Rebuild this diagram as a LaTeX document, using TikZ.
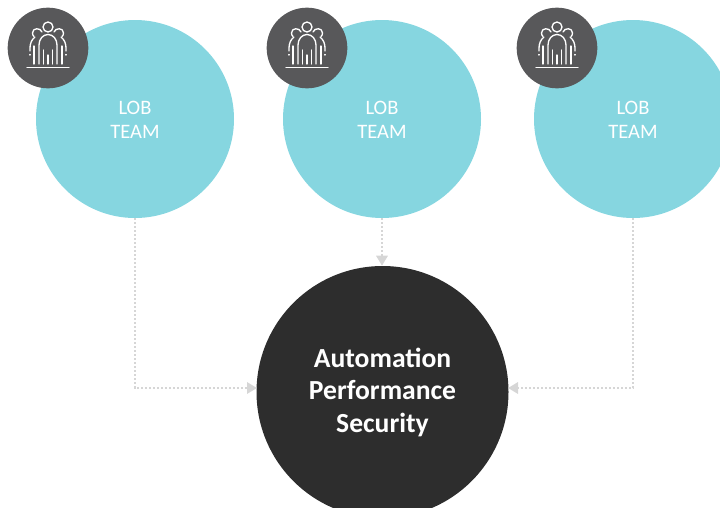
\documentclass[tikz,border=0pt]{standalone}
\usepackage{fontspec}
\setmainfont{Carlito}
\usetikzlibrary{arrows.meta}
\definecolor{lobc}{HTML}{86D6E0}
\definecolor{darkc}{HTML}{2D2D2D}
\definecolor{iconc}{HTML}{58585A}
\definecolor{linkc}{HTML}{D6D6D6}
\tikzset{
  x=0.75pt,y=-0.75pt,
  lobteam/.style={circle,fill=lobc,draw=none,minimum size=148.5pt,inner sep=0pt},
  lobtext/.style={text=white,align=center,yshift=-0.75pt,inner sep=0pt,font=\fontsize{15.4}{18}\selectfont},
  coreteam/.style={circle,fill=darkc,draw=none,minimum size=189pt,inner sep=0pt,text=white,align=center,font=\bfseries\fontsize{20.7}{24.4}\selectfont},
  iconbg/.style={circle,fill=iconc,draw=none,minimum size=60.5pt,inner sep=0pt},
  link/.style={draw=linkc,line width=2pt,dash pattern=on 1.6pt off 1.4pt,-{Triangle[length=7.5pt,width=8.4pt,fill=linkc,sep=0pt]}},
  ppl/.style={draw=white,line width=1pt,line cap=round,line join=round},
  pics/people/.style={code={
    \draw[ppl] (-21,19.5) -- (21,19.5);
    \draw[ppl] (0,-21) circle (5);
    \foreach \s in {-1,1}{
      % side head
      \draw[ppl] (\s*6,-16) .. controls (\s*7.5,-20.5) and (\s*15.5,-20.5) .. (\s*15.5,-15) .. controls (\s*15.5,-13.2) and (\s*14.8,-12.2) .. (\s*14,-11.5);
      % centre body side
      \draw[ppl] (0,-13.5) .. controls (\s*5,-13.5) and (\s*9,-9) .. (\s*9,-3) -- (\s*9,16);
      % outer arm
      \draw[ppl] (\s*13,-11) .. controls (\s*16.5,-8.5) and (\s*18,-4) .. (\s*18,0) -- (\s*18,3);
      \draw[ppl] (\s*18,6.5) -- (\s*18,7);
      % legs
      \draw[ppl] (\s*14,-2) -- (\s*14,16);
      \draw[ppl] (\s*4.7,2) -- (\s*4.7,16);
    }
    \draw[ppl] (0,7) -- (0,16);
  }}
}
\begin{document}
\begin{tikzpicture}
\useasboundingbox (0,0) rectangle (720,507);
\clip (0,0) rectangle (720,507);
\node[lobteam,label={[lobtext]center:LOB\\TEAM}] (lobA) at (135,119) {};
\node[lobteam,label={[lobtext]center:LOB\\TEAM}] (lobB) at (382,119) {};
\node[lobteam,label={[lobtext]center:LOB\\TEAM}] (lobC) at (633,119) {};
\node[coreteam] (core) at (382.5,392) {Automation\\Performance\\Security};
\coordinate (inL) at (257,388);
\coordinate (inR) at (508,388);
\node[iconbg] (iconA) at (48,48) {};
\node[iconbg] (iconB) at (307,48) {};
\node[iconbg] (iconC) at (557,48) {};
\pic at (iconA) {people};
\pic at (iconB) {people};
\pic at (iconC) {people};
\draw[link] (lobA.south) |- (inL);
\draw[link] (lobB.south) -- (lobB.south |- core.north);
\draw[link] (lobC.south) |- (inR);
\end{tikzpicture}
\end{document}
